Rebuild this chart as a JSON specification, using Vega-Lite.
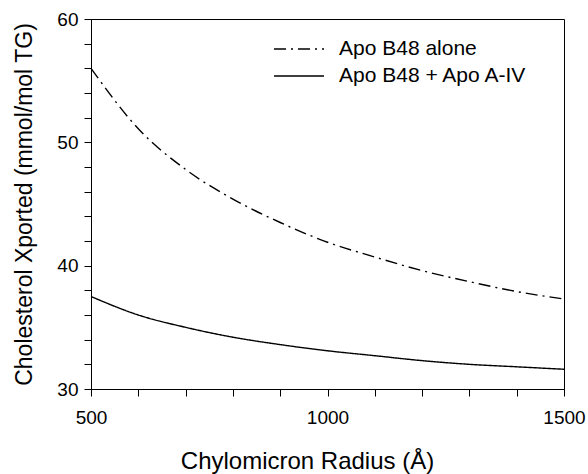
{
  "$schema": "https://vega.github.io/schema/vega-lite/v6.json",
  "width": 473,
  "height": 370,
  "autosize": "none",
  "padding": {"left": 91, "top": 19, "right": 24, "bottom": 85},
  "config": {
    "view": {"stroke": "black", "strokeWidth": 1},
    "font": "Liberation Sans",
    "axis": {
      "domainColor": "black",
      "tickColor": "black",
      "labelColor": "black",
      "titleColor": "black",
      "labelFont": "Liberation Sans",
      "titleFont": "Liberation Sans",
      "labelFontSize": 19,
      "titleFontWeight": "normal",
      "grid": false,
      "tickSize": 7,
      "labelFlush": false
    }
  },
  "data": {
    "values": [
      {"r": 500, "value": 56.0, "series": "Apo B48 alone"},
      {"r": 600, "value": 51.1, "series": "Apo B48 alone"},
      {"r": 700, "value": 47.8, "series": "Apo B48 alone"},
      {"r": 800, "value": 45.4, "series": "Apo B48 alone"},
      {"r": 900, "value": 43.5, "series": "Apo B48 alone"},
      {"r": 1000, "value": 41.9, "series": "Apo B48 alone"},
      {"r": 1100, "value": 40.7, "series": "Apo B48 alone"},
      {"r": 1200, "value": 39.6, "series": "Apo B48 alone"},
      {"r": 1300, "value": 38.7, "series": "Apo B48 alone"},
      {"r": 1400, "value": 37.9, "series": "Apo B48 alone"},
      {"r": 1500, "value": 37.3, "series": "Apo B48 alone"},
      {"r": 500, "value": 37.5, "series": "Apo B48 + Apo A-IV"},
      {"r": 600, "value": 36.0, "series": "Apo B48 + Apo A-IV"},
      {"r": 700, "value": 35.0, "series": "Apo B48 + Apo A-IV"},
      {"r": 800, "value": 34.2, "series": "Apo B48 + Apo A-IV"},
      {"r": 900, "value": 33.6, "series": "Apo B48 + Apo A-IV"},
      {"r": 1000, "value": 33.1, "series": "Apo B48 + Apo A-IV"},
      {"r": 1100, "value": 32.7, "series": "Apo B48 + Apo A-IV"},
      {"r": 1200, "value": 32.3, "series": "Apo B48 + Apo A-IV"},
      {"r": 1300, "value": 32.0, "series": "Apo B48 + Apo A-IV"},
      {"r": 1400, "value": 31.8, "series": "Apo B48 + Apo A-IV"},
      {"r": 1500, "value": 31.6, "series": "Apo B48 + Apo A-IV"}
    ]
  },
  "mark": {"type": "line", "color": "black", "strokeWidth": 1.4, "interpolate": "monotone"},
  "encoding": {
    "x": {
      "field": "r",
      "type": "quantitative",
      "scale": {"domain": [500, 1500], "nice": false, "zero": false},
      "axis": {
        "title": "Chylomicron Radius (Å)",
        "titleFontSize": 24,
        "values": [500, 600, 700, 800, 900, 1000, 1100, 1200, 1300, 1400, 1500],
        "format": "d",
        "labelExpr": "datum.value % 500 === 0 ? datum.label : ''",
        "labelPadding": 12,
        "titlePadding": 22,
        "titleX": 216
      }
    },
    "y": {
      "field": "value",
      "type": "quantitative",
      "scale": {"domain": [30, 60], "nice": false, "zero": false},
      "axis": {
        "title": "Cholesterol Xported (mmol/mol TG)",
        "titleFontSize": 23,
        "titleY": 185,
        "values": [30, 32, 34, 36, 38, 40, 42, 44, 46, 48, 50, 52, 54, 56, 58, 60],
        "labelExpr": "datum.value % 10 === 0 ? datum.label : ''",
        "labelPadding": 6,
        "titlePadding": 20
      }
    },
    "strokeDash": {
      "field": "series",
      "type": "nominal",
      "scale": {"domain": ["Apo B48 alone", "Apo B48 + Apo A-IV"], "range": [[12, 5, 2, 5], [1, 0]]},
      "legend": {
        "title": null,
        "orient": "none",
        "legendX": 197,
        "legendY": 19,
        "symbolType": "M-2.5,0H2.5",
        "symbolSize": 400,
        "symbolStrokeWidth": 1.3,
        "symbolStrokeColor": "black",
        "labelFont": "Liberation Sans",
        "labelFontSize": 21,
        "labelLimit": 400,
        "labelColor": "black",
        "labelOffset": 29,
        "rowPadding": 6
      }
    }
  }
}
